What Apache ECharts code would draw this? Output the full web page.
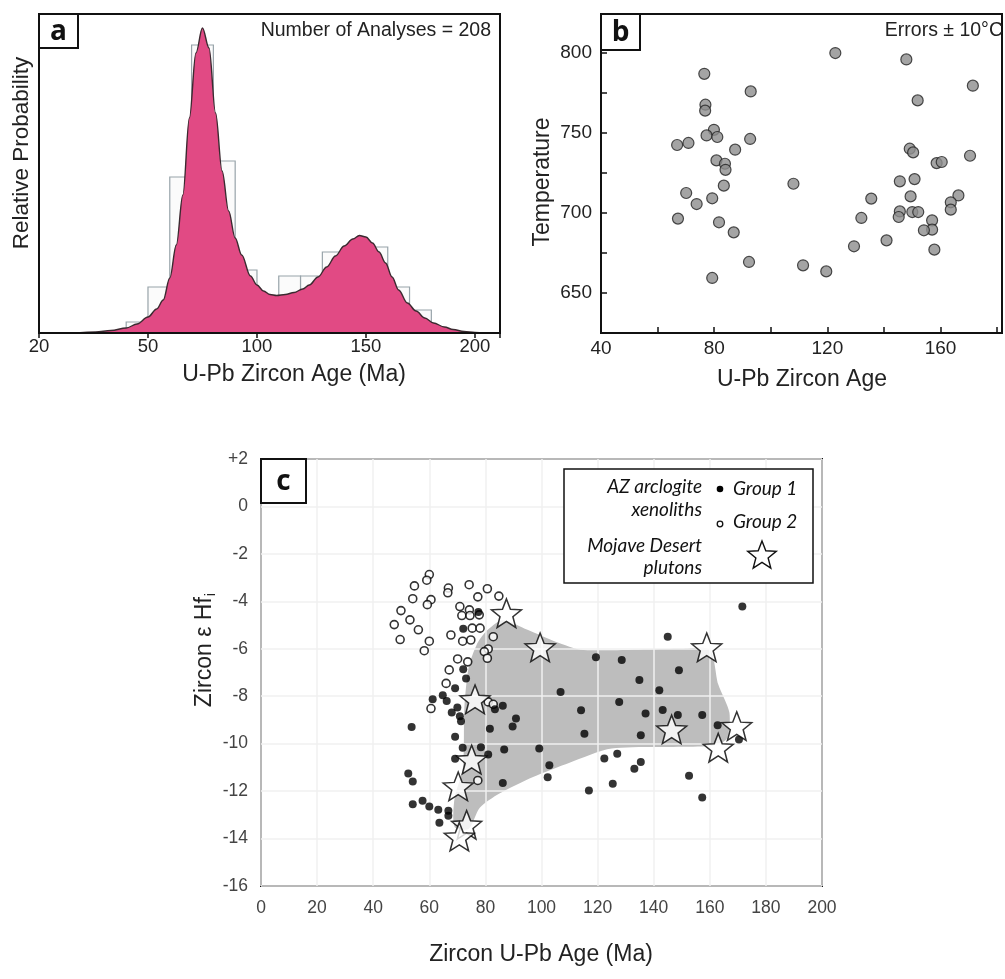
<!DOCTYPE html>
<html>
<head>
<meta charset="utf-8">
<script src="https://cdn.jsdelivr.net/npm/echarts@6/dist/echarts.min.js"></script>
<style>
  html, body { margin: 0; padding: 0; background: #fff; }
  #chart { width: 1005px; height: 979px; }
</style>
</head>
<body>
<div id="chart"></div>
<script>
// ---- panel a: age histogram + probability curve ----
var aTickLabels = ['20', '50', '100', '150', '200'];
var aBinStart = [40, 50, 60, 70, 80, 90, 110, 120, 130, 140, 150, 160, 170];
var aBinHeight = [11, 46, 156, 288, 172, 63, 57, 57, 81, 82, 86, 46, 23];
var aCurveAge = [0, 15, 26, 33, 40, 45, 50, 54, 57, 60, 63, 66, 69, 72, 75, 78, 81, 84, 87, 90, 93, 97, 100,
  103, 106, 109, 113, 117, 121, 124, 128, 132, 136, 140, 144, 147, 150, 153, 156, 159, 162, 165, 169, 173,
  177, 181, 186, 190, 195, 200, 205];
var aCurveProb = [0, 0.3, 1, 2.5, 5, 9, 16, 24, 33, 55, 88, 138, 215, 280, 305, 285, 220, 162, 122, 95, 78, 57, 48,
  42, 38.5, 37.5, 38.5, 40.5, 44, 48, 56, 66, 77, 87, 94, 97.5, 96, 90, 81, 70, 56, 43, 30, 22,
  15, 10, 6, 3.5, 1.5, 0.5, 0];

// ---- panel b: temperature vs age ----
var bAge = [122.8, 147.9, 76.5, 92.9, 171.4, 151.9, 76.9, 76.8, 79.9, 77.3, 81.1, 92.7, 66.9, 70.9, 87.4,
  149.1, 150.3, 170.4, 80.8, 83.8, 84.0, 158.6, 160.4, 108.0, 145.6, 150.8, 83.4, 70.1, 73.8, 79.3, 135.5,
  149.4, 166.3, 163.6, 163.6, 145.6, 145.2, 150.0, 152.1, 67.2, 132.0, 81.7, 157.0, 157.0, 154.1, 86.9,
  140.9, 129.4, 157.8, 92.3, 111.4, 119.6, 79.3];
var bTemp = [800, 796, 787, 776, 779.6, 770.4, 767.7, 764, 752, 748.5, 747.5, 746.3, 742.5, 743.8, 739.6,
  740.2, 737.9, 735.8, 732.9, 730.8, 727, 731.2, 731.9, 718.3, 719.8, 721.2, 717.1, 712.5, 705.6, 709.2, 709,
  710.4, 711, 706.7, 702.1, 701, 697.5, 700.6, 700.6, 696.5, 696.9, 694.2, 695.4, 689.6, 689.2, 687.9,
  682.9, 679.2, 677.1, 669.4, 667.3, 663.5, 659.4];

// ---- panel c: zircon eHf vs age ----
var cG1Age = [72.1, 77.5, 72.1, 73.1, 69.2, 61.2, 64.8, 66.2, 70.0, 68.0, 70.9, 83.4, 86.2, 71.3, 53.7, 81.6,
  86.7, 69.2, 71.9, 78.4, 69.2, 81.0, 86.2, 52.5, 54.1, 54.1, 57.6, 60.0, 63.2, 66.8, 66.8, 63.6,
  171.6, 145.0, 119.4, 128.6, 149.0, 134.9, 142.0, 106.8, 127.7, 114.1, 137.1, 143.2, 148.6, 157.3, 90.9,
  89.7, 115.3, 135.4, 162.8, 170.4, 99.2, 127.0, 122.4, 102.8, 135.4, 133.1, 102.2, 152.6, 125.4, 116.9, 157.3];
var cG1Eps = [-5.16, -4.45, -6.86, -7.25, -7.66, -8.13, -7.96, -8.20, -8.48, -8.69, -8.84, -8.55, -8.40, -9.05,
  -9.30, -9.37, -10.25, -9.71, -10.17, -10.15, -10.64, -10.46, -11.66, -11.26, -11.59, -12.55, -12.41, -12.65,
  -12.79, -12.83, -13.04, -13.33,
  -4.22, -5.49, -6.36, -6.47, -6.90, -7.32, -7.75, -7.82, -8.24, -8.59, -8.73, -8.58, -8.79, -8.79, -8.94,
  -9.28, -9.58, -9.64, -9.22, -9.82, -10.20, -10.42, -10.63, -10.91, -10.77, -11.06, -11.42, -11.35, -11.69,
  -11.97, -12.27];
var cG2Age = [60.0, 59.1, 54.7, 66.8, 66.6, 74.2, 80.7, 54.1, 60.6, 59.3, 77.3, 84.8, 49.9, 70.9, 74.3, 71.6,
  74.5, 77.8, 53.1, 47.5, 56.1, 75.3, 78.1, 67.7, 82.8, 49.6, 60.0, 71.9, 74.8, 81.0, 79.6, 80.7, 58.2, 70.1,
  73.7, 67.1, 66.0, 81.0, 82.8, 60.6, 77.3];
var cG2Eps = [-2.87, -3.11, -3.35, -3.44, -3.64, -3.30, -3.47, -3.89, -3.93, -4.14, -3.81, -3.78, -4.39, -4.22,
  -4.36, -4.60, -4.60, -4.57, -4.78, -4.98, -5.20, -5.13, -5.13, -5.42, -5.49, -5.61, -5.68, -5.68, -5.63,
  -6.01, -6.12, -6.40, -6.08, -6.43, -6.55, -6.89, -7.46, -8.24, -8.34, -8.52, -11.55];
var cStarAge = [87.5, 99.5, 158.9, 76.3, 146.4, 169.6, 163.0, 75.1, 70.3, 73.3, 70.7];
var cStarEps = [-4.5, -5.94, -5.94, -8.13, -9.4, -9.26, -10.17, -10.67, -11.8, -13.42, -13.92];
var cFieldAge = [80, 86, 95, 105, 115, 150, 160, 163, 167, 166, 160, 125, 110, 97, 85, 78, 74, 69, 69, 72, 72.5, 74, 77];
var cFieldEps = [-5.3, -4.8, -5.2, -5.7, -6.05, -6.0, -6.05, -7.5, -8.7, -9.8, -10.1, -10.2, -10.8, -11.4, -12.1,
  -12.7, -13.6, -13.5, -12.3, -11.0, -8.5, -6.8, -5.8];

var sansFont = '"Liberation Sans", Arial, Helvetica, sans-serif';

function pairs(xs, ys) {
  return xs.map(function (x, i) { return [x, ys[i]]; });
}

function starPoints(cx, cy, r, inner) {
  var pts = [];
  for (var k = 0; k < 10; k++) {
    var rr = k % 2 === 0 ? r : r * inner;
    var ang = -Math.PI / 2 + k * Math.PI / 5;
    pts.push([cx + rr * Math.cos(ang), cy + rr * Math.sin(ang)]);
  }
  return pts;
}

var starSymbol = 'path://M' + starPoints(0, 0, 10, 0.43).map(function (p) {
  return p[0].toFixed(3) + ' ' + p[1].toFixed(3);
}).join(' L') + ' Z';

function renderBin(params, api) {
  var p0 = api.coord([api.value(0), api.value(2)]);
  var p1 = api.coord([api.value(1), 0]);
  return {
    type: 'rect',
    shape: { x: p0[0], y: p0[1], width: p1[0] - p0[0], height: p1[1] - p0[1] },
    style: { fill: '#fbfbfb', stroke: '#98a4aa', lineWidth: 1.2 }
  };
}

function renderField(params, api) {
  if (params.dataIndex !== 0) return null;
  var pts = cFieldAge.map(function (a, i) { return api.coord([a, cFieldEps[i]]); });
  return { type: 'polygon', shape: { points: pts, smooth: 0.25 }, style: { fill: '#bdbdbd' } };
}

function boxLabel(x, y, w, h, txt) {
  return [
    { type: 'rect', z: 100, shape: { x: x, y: y, width: w, height: h },
      style: { fill: '#fff', stroke: '#111', lineWidth: 2 } },
    { type: 'text', z: 101, x: x + w / 2, y: y + h / 2 + 1,
      style: { text: txt, font: 'bold 28px "Open Sans", sans-serif', fill: '#111', align: 'center', verticalAlign: 'middle' } }
  ];
}

function plainText(x, y, txt, size, align, rot) {
  return { type: 'text', z: 100, x: x, y: y, rotation: rot || 0,
    style: { text: txt, font: size + 'px ' + sansFont, fill: '#222', align: align, verticalAlign: 'middle' } };
}

var legendStar = starPoints(762, 556, 15, 0.43);
var legendFont = 'italic 19px Lato, "Open Sans", sans-serif';

var graphics = []
  .concat(boxLabel(39, 14, 39, 34, 'a'))
  .concat(boxLabel(601, 14, 39, 36, 'b'))
  .concat(boxLabel(261, 459, 45, 44, 'c'))
  .concat([
    plainText(491, 31, 'Number of Analyses = 208', 19.5, 'right'),
    plainText(294, 375, 'U-Pb Zircon Age (Ma)', 23, 'center'),
    plainText(22, 153, 'Relative Probability', 22.5, 'center', Math.PI / 2),
    plainText(1003, 31, 'Errors \u00b1 10\u00b0C', 19.5, 'right'),
    plainText(802, 380, 'U-Pb Zircon Age', 23, 'center'),
    plainText(543, 182, 'Temperature', 23, 'center', Math.PI / 2),
    plainText(541, 955, 'Zircon U-Pb Age (Ma)', 23, 'center'),
    { type: 'text', z: 100, x: 205, y: 650, rotation: Math.PI / 2,
      style: { text: '{m|Zircon \u03b5 Hf}{s|i}', align: 'center', verticalAlign: 'middle', fill: '#222',
        rich: { m: { font: '23px ' + sansFont, fill: '#222' },
                s: { font: '15px ' + sansFont, fill: '#222', padding: [12, 0, 0, 1] } } } },
    // legend of panel c
    { type: 'rect', z: 100, shape: { x: 564, y: 469, width: 249, height: 114 },
      style: { fill: '#fff', stroke: '#111', lineWidth: 1.5 } },
    { type: 'text', z: 101, x: 702, y: 487, style: { text: 'AZ arclogite', font: legendFont, fill: '#111', align: 'right', verticalAlign: 'middle' } },
    { type: 'text', z: 101, x: 702, y: 510, style: { text: 'xenoliths', font: legendFont, fill: '#111', align: 'right', verticalAlign: 'middle' } },
    { type: 'text', z: 101, x: 702, y: 546, style: { text: 'Mojave Desert', font: legendFont, fill: '#111', align: 'right', verticalAlign: 'middle' } },
    { type: 'text', z: 101, x: 702, y: 568, style: { text: 'plutons', font: legendFont, fill: '#111', align: 'right', verticalAlign: 'middle' } },
    { type: 'circle', z: 101, shape: { cx: 720, cy: 489, r: 3.3 }, style: { fill: '#000' } },
    { type: 'circle', z: 101, shape: { cx: 720, cy: 524, r: 2.8 }, style: { fill: '#fff', stroke: '#111', lineWidth: 1.3 } },
    { type: 'text', z: 101, x: 733, y: 489, style: { text: 'Group 1', font: legendFont, fill: '#111', align: 'left', verticalAlign: 'middle' } },
    { type: 'text', z: 101, x: 733, y: 522, style: { text: 'Group 2', font: legendFont, fill: '#111', align: 'left', verticalAlign: 'middle' } },
    { type: 'polygon', z: 101, shape: { points: legendStar }, style: { fill: '#fff', stroke: '#111', lineWidth: 1.4 } }
  ]);

var option = {
  backgroundColor: '#fff',
  animation: false,
  textStyle: { fontFamily: sansFont },
  grid: [
    { left: 39, top: 14, width: 461, height: 319, show: true, borderColor: '#111', borderWidth: 2 },
    { left: 601, top: 14, width: 406, height: 319, show: true, borderColor: '#111', borderWidth: 2 },
    { left: 261, top: 459, width: 561, height: 427, show: true, borderColor: '#111', borderWidth: 2 }
  ],
  xAxis: [
    { gridIndex: 0, type: 'value', min: 0, max: 211.5, interval: 50, z: 5,
      axisLine: { lineStyle: { color: '#111', width: 2 } },
      axisTick: { inside: false, length: 5, lineStyle: { color: '#111', width: 1.5 } },
      axisLabel: { margin: 4, fontSize: 18.5, color: '#222',
        formatter: function (v) { return aTickLabels[v / 50] || ''; } },
      splitLine: { show: false } },
    { gridIndex: 1, type: 'value', min: 40, max: 181.7, interval: 20,
      axisLine: { lineStyle: { color: '#111', width: 2 } },
      axisTick: { inside: true, length: 6, lineStyle: { color: '#111', width: 1.5 } },
      axisLabel: { margin: 6, fontSize: 19, color: '#222',
        formatter: function (v) { return v % 40 === 0 ? String(v) : ''; } },
      splitLine: { show: false } },
    { gridIndex: 2, type: 'value', min: 0, max: 200, interval: 20, z: 3,
      axisLine: { show: false }, axisTick: { show: false },
      axisLabel: { margin: 13, fontSize: 17.5, color: '#444' },
      splitLine: { show: true, lineStyle: { color: '#f0f0f0', width: 1.5 } } }
  ],
  yAxis: [
    { gridIndex: 0, type: 'value', min: 0, max: 319, axisLabel: { show: false }, axisTick: { show: false },
      axisLine: { show: false }, splitLine: { show: false } },
    { gridIndex: 1, type: 'value', min: 625, max: 824.4, interval: 25,
      axisLine: { lineStyle: { color: '#111', width: 2 } },
      axisTick: { inside: true, length: 6, lineStyle: { color: '#111', width: 1.5 } },
      axisLabel: { margin: 9, fontSize: 19, color: '#222',
        formatter: function (v) { return v % 50 === 0 ? String(v) : ''; } },
      splitLine: { show: false } },
    { gridIndex: 2, type: 'value', min: -16, max: 2, interval: 2, z: 3,
      axisLine: { show: false }, axisTick: { show: false },
      axisLabel: { margin: 13, fontSize: 17.5, color: '#444',
        formatter: function (v) { return v > 0 ? '+' + v : String(v); } },
      splitLine: { show: true, lineStyle: { color: '#f0f0f0', width: 1.5 } } }
  ],
  series: [
    { type: 'custom', name: 'histogram', xAxisIndex: 0, yAxisIndex: 0, z: 1,
      renderItem: renderBin, encode: { x: [0, 1], y: 2 },
      data: aBinStart.map(function (s, i) { return [s, s + 10, aBinHeight[i]]; }) },
    { type: 'line', name: 'probability', xAxisIndex: 0, yAxisIndex: 0, z: 2,
      smooth: 0.35, smoothMonotone: 'x', showSymbol: false,
      lineStyle: { color: '#3b2a30', width: 1.4 },
      areaStyle: { color: '#e14a84', opacity: 1 },
      data: pairs(aCurveAge, aCurveProb) },
    { type: 'scatter', name: 'temperature', xAxisIndex: 1, yAxisIndex: 1,
      symbolSize: 11, itemStyle: { color: '#8d8d8d', borderColor: '#222', borderWidth: 1.2 },
      data: pairs(bAge, bTemp) },
    { type: 'custom', name: 'field', xAxisIndex: 2, yAxisIndex: 2, z: 1,
      renderItem: renderField, data: pairs(cFieldAge, cFieldEps) },
    { type: 'scatter', name: 'Group 2', xAxisIndex: 2, yAxisIndex: 2, z: 5,
      symbolSize: 8, itemStyle: { color: '#fff', borderColor: '#000', borderWidth: 1.6 },
      data: pairs(cG2Age, cG2Eps) },
    { type: 'scatter', name: 'Group 1', xAxisIndex: 2, yAxisIndex: 2, z: 6,
      symbolSize: 8, itemStyle: { color: '#000' },
      data: pairs(cG1Age, cG1Eps) },
    { type: 'scatter', name: 'Mojave Desert plutons', xAxisIndex: 2, yAxisIndex: 2, z: 7,
      symbol: starSymbol, symbolSize: [30, 28.5],
      itemStyle: { color: '#fff', borderColor: '#000', borderWidth: 1.5 },
      data: pairs(cStarAge, cStarEps) }
  ],
  graphic: { elements: graphics }
};

var chart = echarts.init(document.getElementById('chart'));
chart.setOption(option);
</script>
</body>
</html>
